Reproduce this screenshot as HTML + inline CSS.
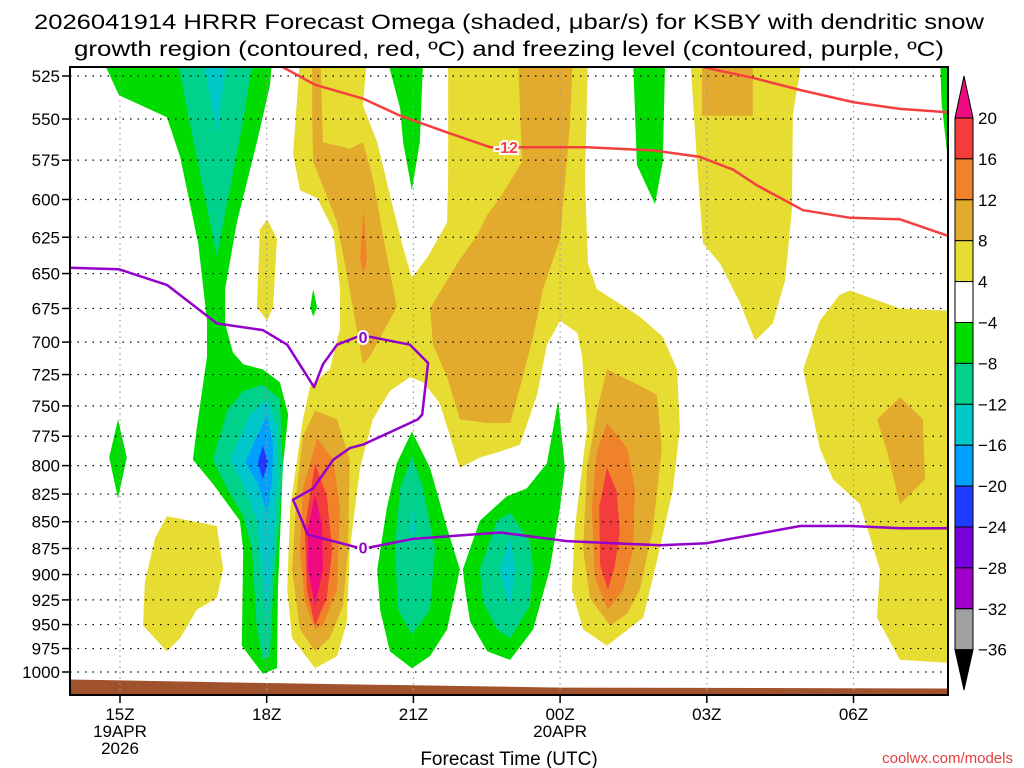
<!DOCTYPE html>
<html><head><meta charset="utf-8"><style>
html,body{margin:0;padding:0;background:#fff;}
svg{display:block;font-family:"Liberation Sans","DejaVu Sans",sans-serif;}
</style></head><body>
<svg id="chart" width="1024" height="768" viewBox="0 0 1024 768" xmlns="http://www.w3.org/2000/svg">
<rect x="0" y="0" width="1024" height="768" fill="#fff"/>
<text x="509" y="29" font-size="21" text-anchor="middle" textLength="950" lengthAdjust="spacingAndGlyphs">2026041914 HRRR Forecast Omega (shaded, μbar/s) for KSBY with dendritic snow</text>
<text x="509" y="56" font-size="21" text-anchor="middle" textLength="870" lengthAdjust="spacingAndGlyphs">growth region (contoured, red, ºC) and freezing level (contoured, purple, ºC)</text>
<defs><clipPath id="plotclip"><rect x="70" y="67" width="878" height="628"/></clipPath></defs>
<g id="fills" clip-path="url(#plotclip)"></g>
<g id="grid" clip-path="url(#plotclip)"></g>
<g id="lines" clip-path="url(#plotclip)"></g>
<g id="axes"></g>
<rect x="70" y="67" width="878" height="628" fill="none" stroke="#000" stroke-width="2"/>
<g id="cbar"></g>
<text x="509" y="765" font-size="19" text-anchor="middle">Forecast Time (UTC)</text>
<text x="1013" y="763" font-size="15" fill="#e04040" text-anchor="end">coolwx.com/models</text>
</svg>
<script>
// ---- data (hours since 15Z 19APR, pressure hPa) ----
const pressureTicks = [525,550,575,600,625,650,675,700,725,750,775,800,825,850,875,900,925,950,975,1000];
const timeTickHours = [0,3,6,9,12,15];
const timeTickLabels = ["15Z","18Z","21Z","00Z","03Z","06Z"];
const dateLabels = [["19APR",0,1],["2026",0,2],["20APR",9,1]];
const cbarLevels = [20,16,12,8,4,-4,-8,-12,-16,-20,-24,-28,-32,-36];
const cbarColors = ["#f33c3c","#f0822a","#e3ab2e","#e6dc32","#ffffff","#00dc00","#00d28c","#00c8c8","#00a0ff","#1e3cff","#7800dc","#a000c8","#a0a0a0"];
const sfcHours = [-1.1,3,9,17.2];
const sfcPres = [1008,1012,1017,1018];

const Y1 = [[3.68,515],[9.57,515],[9.51,588],[9.57,643],[9.75,661],[10.63,681],[11.1,696],[11.39,721],[11.45,768],[11.31,820],[10.98,887],[10.7,943],[10.16,964],[9.96,972],[9.47,955],[9.24,915],[9.3,856],[9.55,768],[9.45,711],[9.35,693],[9.0,684],[8.73,702],[8.53,741],[8.18,782],[7.77,788],[7.36,793],[6.95,802],[6.54,748],[6.2,731],[5.93,727],[5.52,738],[5.17,761],[4.91,802],[4.7,876],[4.64,947],[4.44,983],[3.99,996],[3.52,964],[3.42,915],[3.48,837],[3.74,761],[3.89,734],[4.29,721],[4.5,690],[4.5,661],[4.36,620],[4.03,599],[3.68,594],[3.54,571]];
const Y2 = [[11.66,515],[13.95,515],[13.76,547],[13.74,607],[13.6,655],[13.35,686],[12.99,699],[12.68,671],[12.27,643],[11.92,629],[11.8,576]];
const Y3 = [[14.93,662],[15.95,675],[17.2,677],[17.2,991],[15.95,987],[15.48,943],[15.54,895],[15.13,834],[14.58,812],[14.31,785],[13.97,721],[14.31,684],[14.72,665]];
const Y4 = [[0.96,845],[1.98,854],[2.11,895],[1.98,923],[1.57,935],[1.23,964],[0.96,978],[0.47,951],[0.51,907],[0.72,865]];
const Y5 = [[3.01,613],[3.21,626],[3.13,674],[3.01,684],[2.8,674],[2.86,620]];
const H1 = [[5.05,515],[4.97,542],[5.26,564],[5.52,597],[5.79,632],[5.97,653],[6.3,638],[6.69,615],[6.71,588],[6.71,515]];
const O1 = [[8.14,515],[9.26,515],[9.2,554],[9.0,626],[8.65,661],[8.45,696],[8.18,735],[7.98,764],[7.51,764],[6.95,761],[6.69,727],[6.4,702],[6.34,675],[6.95,640],[7.3,624],[7.51,610],[7.77,599],[8.22,576]];
const O2 = [[3.93,515],[4.1,515],[4.15,564],[4.7,568],[4.97,564],[5.17,586],[5.38,624],[5.66,674],[5.11,711],[4.97,717],[4.76,674],[4.44,615],[3.95,576],[3.93,549]];
const O3 = [[11.9,515],[12.94,515],[12.94,548],[11.9,548]];
const O4 = [[15.95,743],[16.42,761],[16.46,812],[15.95,834],[15.69,788],[15.48,761]];
const O5 = [[9.96,721],[10.49,731],[10.98,741],[11.08,785],[10.9,856],[10.63,915],[10.37,939],[10.02,951],[9.61,923],[9.47,876],[9.55,802],[9.77,751]];
const O7 = [[3.99,754],[4.44,761],[4.7,795],[4.66,876],[4.56,931],[4.29,964],[3.99,978],[3.68,955],[3.52,895],[3.62,820],[3.74,775]];
const D1 = [[4.98,606],[5.05,640],[4.98,650],[4.91,640]];
const D5 = [[9.96,764],[10.37,785],[10.53,820],[10.49,876],[10.29,915],[9.98,935],[9.71,903],[9.65,837],[9.75,788]];
const D7 = [[4.03,777],[4.36,795],[4.5,837],[4.44,915],[4.15,951],[3.99,955],[3.78,927],[3.68,876],[3.74,820]];
const R5 = [[9.96,802],[10.16,823],[10.22,860],[10.12,891],[9.98,915],[9.82,891],[9.8,837]];
const R7 = [[3.99,798],[4.23,827],[4.34,876],[4.23,923],[3.99,951],[3.82,915],[3.78,856]];
const M7 = [[3.99,825],[4.13,853],[4.15,895],[3.99,931],[3.84,895],[3.84,856]];
const G1 = [[-0.37,515],[-0.02,536],[0.96,549],[1.23,573],[1.6,629],[1.78,684],[1.78,711],[1.57,768],[1.49,795],[1.9,816],[2.45,849],[2.52,876],[2.49,972],[2.92,1002],[3.21,996],[3.23,915],[3.33,802],[3.44,757],[3.27,731],[2.92,721],[2.52,717],[2.31,708],[2.15,686],[2.15,661],[2.39,615],[2.8,564],[3.07,530],[3.11,515]];
const G2 = [[5.46,515],[6.2,515],[6.13,564],[5.97,594],[5.79,564],[5.73,544]];
const G3 = [[10.49,515],[11.15,515],[11.1,576],[10.94,603],[10.57,578]];
const G4 = [[16.77,515],[17.2,515],[17.2,575],[16.93,575],[16.8,540]];
const G5 = [[7.01,895],[7.36,849],[7.91,827],[8.32,820],[8.73,798],[8.96,746],[9.1,802],[9.0,837],[8.79,895],[8.45,955],[7.98,987],[7.51,978],[7.16,947],[7.06,915]];
const G6 = [[5.97,771],[6.34,802],[6.69,856],[6.95,895],[6.69,955],[6.34,983],[5.97,996],[5.52,978],[5.32,935],[5.26,895],[5.46,837],[5.66,798]];
const G7 = [[-0.04,761],[0.14,793],[-0.04,829],[-0.22,793]];
const G8 = [[3.95,661],[4.03,674],[3.95,681],[3.89,674]];
const T1 = [[1.17,515],[1.37,544],[1.98,638],[2.52,551],[2.72,515]];
const T2 = [[1.9,795],[2.19,754],[2.52,738],[2.92,733],[3.27,744],[3.33,802],[3.21,876],[3.13,915],[3.07,983],[2.92,987],[2.8,955],[2.7,876],[2.52,845],[2.19,820]];
const T5 = [[7.36,895],[7.71,849],[7.98,842],[8.38,868],[8.45,895],[8.38,931],[7.98,964],[7.71,955],[7.42,927]];
const T6 = [[5.97,792],[6.2,820],[6.44,876],[6.34,935],[5.97,960],[5.69,935],[5.62,876],[5.73,820]];
const C1 = [[1.7,515],[1.98,558],[2.19,515]];
const C2 = [[2.25,795],[2.66,757],[3.01,744],[3.23,768],[3.21,820],[3.11,895],[3.01,947],[2.9,895],[2.8,849],[2.52,816]];
const C5 = [[7.77,895],[7.98,865],[8.08,895],[7.98,931],[7.91,923]];
const C6 = [[5.97,837],[6.03,856],[5.97,876],[5.93,856]];
const B2 = [[2.56,797],[3.01,757],[3.13,782],[3.11,812],[3.01,842],[2.82,816]];
const DB2 = [[2.82,797],[2.92,783],[3.03,797],[2.92,812]];

const freezeHours = [-1.02,-0.02,0.96,1.98,2.92,3.42,3.74,3.97,4.15,4.44,4.85,5.11,5.93,6.3,6.18,6.09,4.97,4.7,4.36,3.95,3.54,3.84,4.85,5.11,5.99,7.77,9.14,11.04,12.0,13.91,14.93,15.95,16.93];
const freezePres = [646,647,658,686,691,702,721,735,717,702,696,696,702,716,757,761,782,785,795,820,830,862,874,874,866,860,868,872,870,854,854,856,856];
const m12Hours = [3.33,3.99,4.97,5.73,6.69,7.57,8.24,8.96,9.55,10.9,11.86,12.54,13.03,13.97,14.93,15.95,16.93];
const m12Pres = [520,530,538,548,558,567,567,567,567,569,573,581,591,607,612,613,624];
const m16Hours = [11.92,12.94,13.91,14.99,15.95,16.93];
const m16Pres = [520,526,533,540,544,546];

// ---- axes ----
const X0 = 120, XH = 48.9;
function xOf(h){ return X0 + h*XH; }
function yOf(p){ return 76 + Math.log(p/525)/Math.log(1000/525)*596; }
const NS = "http://www.w3.org/2000/svg";
function mk(tag, parent, attrs){ const e=document.createElementNS(NS,tag); for(const k in attrs) e.setAttribute(k,attrs[k]); parent.appendChild(e); return e; }

const fills = document.getElementById('fills');
const layers = [
 ["yellow-region-main",Y1,"#e6dc32"],["yellow-region-top-right",Y2,"#e6dc32"],["yellow-region-right",Y3,"#e6dc32"],["yellow-region-lower-left",Y4,"#e6dc32"],["yellow-region-small",Y5,"#e6dc32"],
 ["neutral-gap",H1,"#ffffff"],
 ["ascent-8-region-a",O1,"#e3ab2e"],["ascent-8-region-b",O2,"#e3ab2e"],["ascent-8-region-c",O3,"#e3ab2e"],["ascent-8-region-d",O4,"#e3ab2e"],["ascent-8-region-e",O5,"#e3ab2e"],["ascent-8-region-f",O7,"#e3ab2e"],
 ["ascent-12-region-a",D1,"#f0822a"],["ascent-12-region-b",D5,"#f0822a"],["ascent-12-region-c",D7,"#f0822a"],
 ["ascent-16-region-a",R5,"#f33c3c"],["ascent-16-region-b",R7,"#f33c3c"],["ascent-20-region",M7,"#f00a82"],
 ["descent-4-region-a",G1,"#00dc00"],["descent-4-region-b",G2,"#00dc00"],["descent-4-region-c",G3,"#00dc00"],["descent-4-region-d",G4,"#00dc00"],["descent-4-region-e",G5,"#00dc00"],["descent-4-region-f",G6,"#00dc00"],["descent-4-region-g",G7,"#00dc00"],["descent-4-region-h",G8,"#00dc00"],
 ["descent-8-region-a",T1,"#00d28c"],["descent-8-region-b",T2,"#00d28c"],["descent-8-region-c",T5,"#00d28c"],["descent-8-region-d",T6,"#00d28c"],
 ["descent-12-region-a",C1,"#00c8c8"],["descent-12-region-b",C2,"#00c8c8"],["descent-12-region-c",C5,"#00c8c8"],["descent-12-region-d",C6,"#00c8c8"],
 ["descent-16-region",B2,"#00a0ff"],["descent-20-region",DB2,"#1e3cff"]
];
layers.forEach(L=>{
  const pts = L[1].map(v=>xOf(v[0]).toFixed(1)+","+yOf(v[1]).toFixed(1)).join(" ");
  const el = mk('polygon', fills, {points:pts, fill:L[2]});
  
  
});
// ground
{
  let d = "M"+xOf(sfcHours[0])+","+yOf(sfcPres[0]);
  for(let i=1;i<sfcHours.length;i++) d += " L"+xOf(sfcHours[i])+","+yOf(sfcPres[i]);
  d += " L"+xOf(sfcHours[sfcHours.length-1])+",700 L"+xOf(sfcHours[0])+",700 Z";
  const g = mk('path', fills, {d:d, fill:"#a0522d"});
  
  
}
// grid + ticks
const grid = document.getElementById('grid'), axes = document.getElementById('axes');
pressureTicks.forEach(p=>{
  const y = yOf(p);
  const gl = mk('line', grid, {x1:70,x2:948,y1:y,y2:y,stroke:"#000","stroke-width":1.2,"stroke-dasharray":"1.5 6"});
  
  
  const tk = mk('line', axes, {x1:62,x2:70,y1:y,y2:y,stroke:"#000","stroke-width":1.5});
  
  
  const t = mk('text', axes, {x:60,y:y+6,"font-size":17,"text-anchor":"end"});
  t.textContent = p;
  
  
});
timeTickHours.forEach((h,i)=>{
  const x = xOf(h);
  const gl = mk('line', grid, {x1:x,x2:x,y1:67,y2:695,stroke:"#999","stroke-width":1.2,"stroke-dasharray":"1.5 4"});
  
  
  const tk = mk('line', axes, {x1:x,x2:x,y1:695,y2:703,stroke:"#000","stroke-width":1.5});
  
  
  const t = mk('text', axes, {x:x,y:720,"font-size":17,"text-anchor":"middle"});
  t.textContent = timeTickLabels[i];
  
  
});
dateLabels.forEach(d=>{
  const t = mk('text', axes, {x:xOf(d[1]),y:720+d[2]*17,"font-size":17,"text-anchor":"middle"});
  t.textContent = d[0];
  
  
});
// contour lines
const lines = document.getElementById('lines');
function drawLine(hs, ps, color, name){
  const pts = hs.map((h,i)=>xOf(h).toFixed(1)+","+yOf(ps[i]).toFixed(1)).join(" ");
  const el = mk('polyline', lines, {points:pts, fill:"none", stroke:color, "stroke-width":2.5, "stroke-linejoin":"round"});
  
  
}
drawLine(m16Hours, m16Pres, "#f44040", "dgz-upper-contour");
drawLine(m12Hours, m12Pres, "#f44040", "minus12-contour");
drawLine(freezeHours, freezePres, "#9400cc", "freezing-level-contour");
function label(h,p,txt,color,name){
  const x=xOf(h), y=yOf(p);
  const t = mk('text', lines, {x:x,y:y+6,"font-size":16,"font-weight":"bold","text-anchor":"middle",fill:color,stroke:"#fff","stroke-width":4,"paint-order":"stroke"});
  t.textContent = txt;
  
  
}
label(4.97,696,"0","#9400cc","freezing-label-upper");
label(4.97,874,"0","#9400cc","freezing-label-lower");
label(7.9,567,"-12","#f44040","minus12-label");
// colorbar
const cb = document.getElementById('cbar');
const cbX = 955, cbW = 18, cbTop = 118, bandH = 40.9;
{
  const tri = mk('polygon', cb, {points:`${cbX},${cbTop} ${cbX+cbW},${cbTop} ${cbX+cbW/2},76`, fill:"#f00a82", stroke:"#000","stroke-width":1});
  
  
}
cbarColors.forEach((c,i)=>{
  const r = mk('rect', cb, {x:cbX,y:cbTop+i*bandH,width:cbW,height:bandH,fill:c,stroke:"#000","stroke-width":1});
  
  
});
{
  const yb = cbTop+cbarColors.length*bandH;
  const tri = mk('polygon', cb, {points:`${cbX},${yb} ${cbX+cbW},${yb} ${cbX+cbW/2},690`, fill:"#000", stroke:"#000","stroke-width":1});
  
  
}
cbarLevels.forEach((v,i)=>{
  const t = mk('text', cb, {x:978,y:cbTop+i*bandH+6,"font-size":17});
  t.textContent = v<0 ? "\u2212"+Math.abs(v) : String(v);
  
  
});
</script>
</body></html>
